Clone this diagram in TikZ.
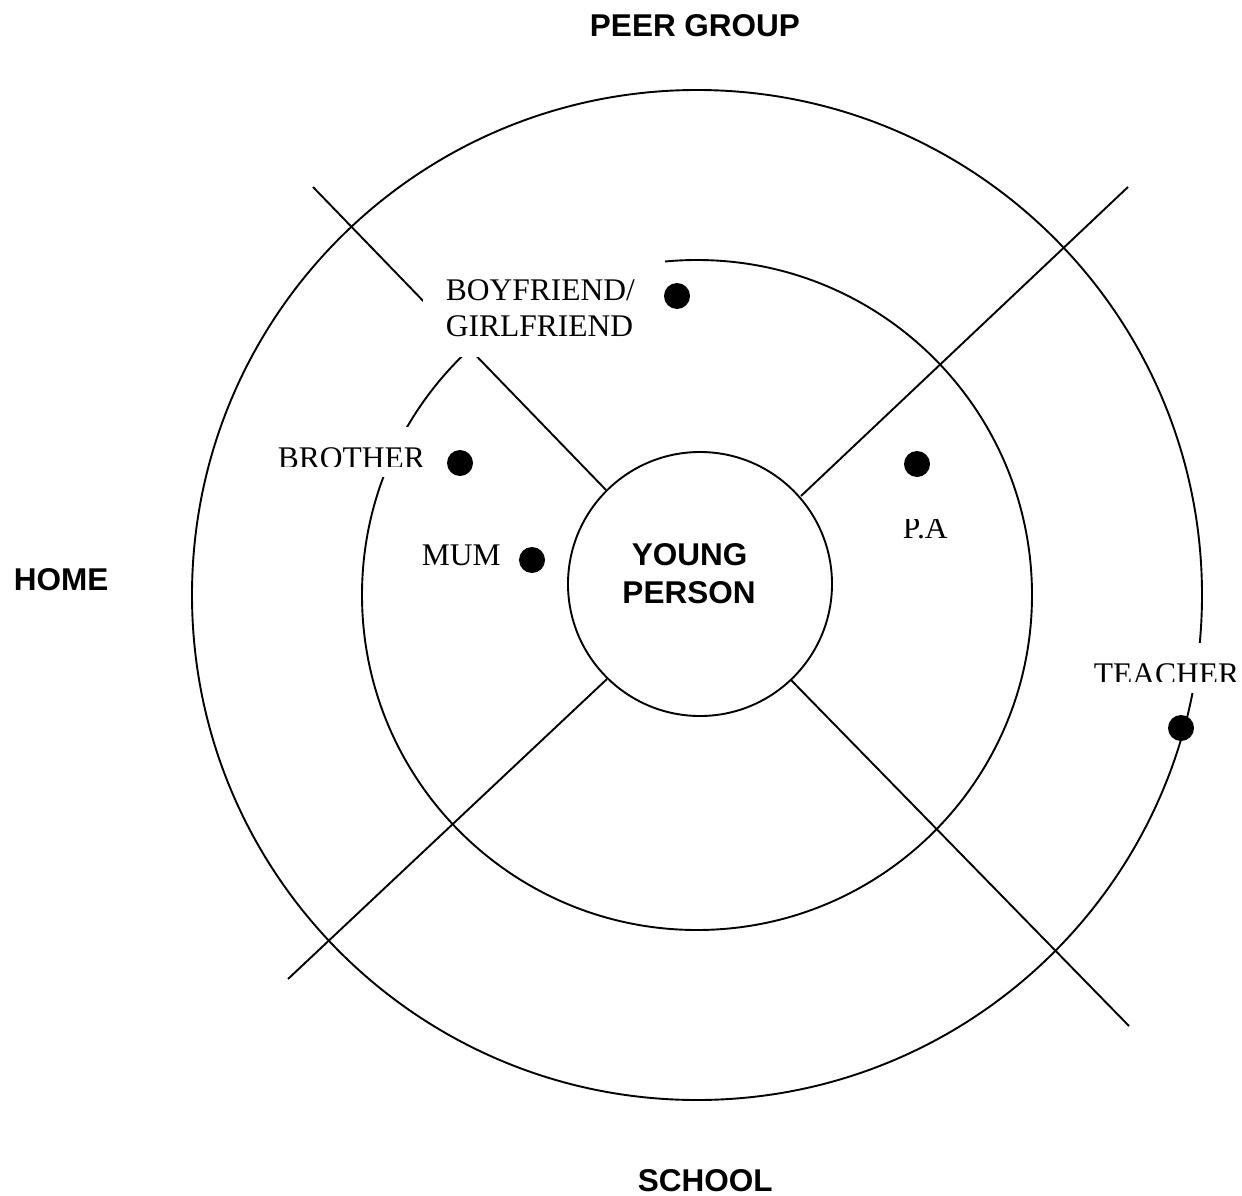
\documentclass[tikz,border=0pt]{standalone}
\usepackage{fontspec}
\setmainfont{Liberation Serif}
\setsansfont{Liberation Sans}
\begin{document}
\begin{tikzpicture}[x=1pt,y=-1pt,line width=1.9pt,
  lbl/.style={inner sep=0pt,anchor=base west,font=\fontsize{31.5}{36}\selectfont},
  head/.style={inner sep=0pt,anchor=base,font=\sffamily\bfseries\fontsize{31.5}{38}\selectfont},
  dot/.style={circle,fill=black,draw=none,minimum size=26pt,inner sep=0pt},
  cover/.style={fill=white,draw=none}]
\useasboundingbox[fill=white] (0,0) rectangle (1242,1196);
% rings
\coordinate (c) at (697,595);
\draw (c) circle[radius=505pt];
\draw (c) circle[radius=335pt];
% spokes
\coordinate (tl) at (313,187);
\coordinate (tr) at (1128,187);
\coordinate (bl) at (288,979);
\coordinate (br) at (1129,1026);
\coordinate (tli) at (606,490);
\coordinate (tri) at (801,496);
\coordinate (bli) at (607,679);
\coordinate (bri) at (791,680);
\draw (tl) -- (tli);
\draw (tr) -- (tri);
\draw (bl) -- (bli);
\draw (br) -- (bri);
% centre circle
\node[circle,draw,fill=white,minimum size=264pt,inner sep=0pt] (yp) at (700,584) {};
% white text boxes covering the lines
\path[cover] (423,248) rectangle (665,357);
\path[cover] (265,427) rectangle (440,477);
\path[cover] (1085,643) rectangle (1242,693);
% labels
\node[lbl] (bf1) at (445,300) {BOYFRIEND/};
\node[lbl] (bf2) at (445,336) {GIRLFRIEND};
\begin{scope}
  \clip (250,400) rectangle (445,466);
  \node[lbl] (bro) at (277,468) {BROTHER};
\end{scope}
\node[lbl] (mum) at (421,565) {MUM};
\begin{scope}
  \clip (880,519) rectangle (975,560);
  \node[lbl] (pa) at (902,538) {P.A};
\end{scope}
\begin{scope}
  \clip (1080,640) rectangle (1242,681);
  \node[lbl] (tea) at (1093,684) {TEACHER};
\end{scope}
% dots
\node[dot] (d1) at (677,296) {};
\node[dot] (d2) at (460,463) {};
\node[dot] (d3) at (532,560) {};
\node[dot] (d4) at (917,464) {};
\node[dot] (d5) at (1181,728) {};
% headings
\node[head] (peer) at (695,37) {PEER GROUP};
\node[head,anchor=base west] (home) at (13,590) {HOME};
\node[head,anchor=base west] (school) at (637,1191) {SCHOOL};
\node[head] (y1) at (689.5,565) {YOUNG};
\node[head] (y2) at (689,603) {PERSON};
\end{tikzpicture}
\end{document}
